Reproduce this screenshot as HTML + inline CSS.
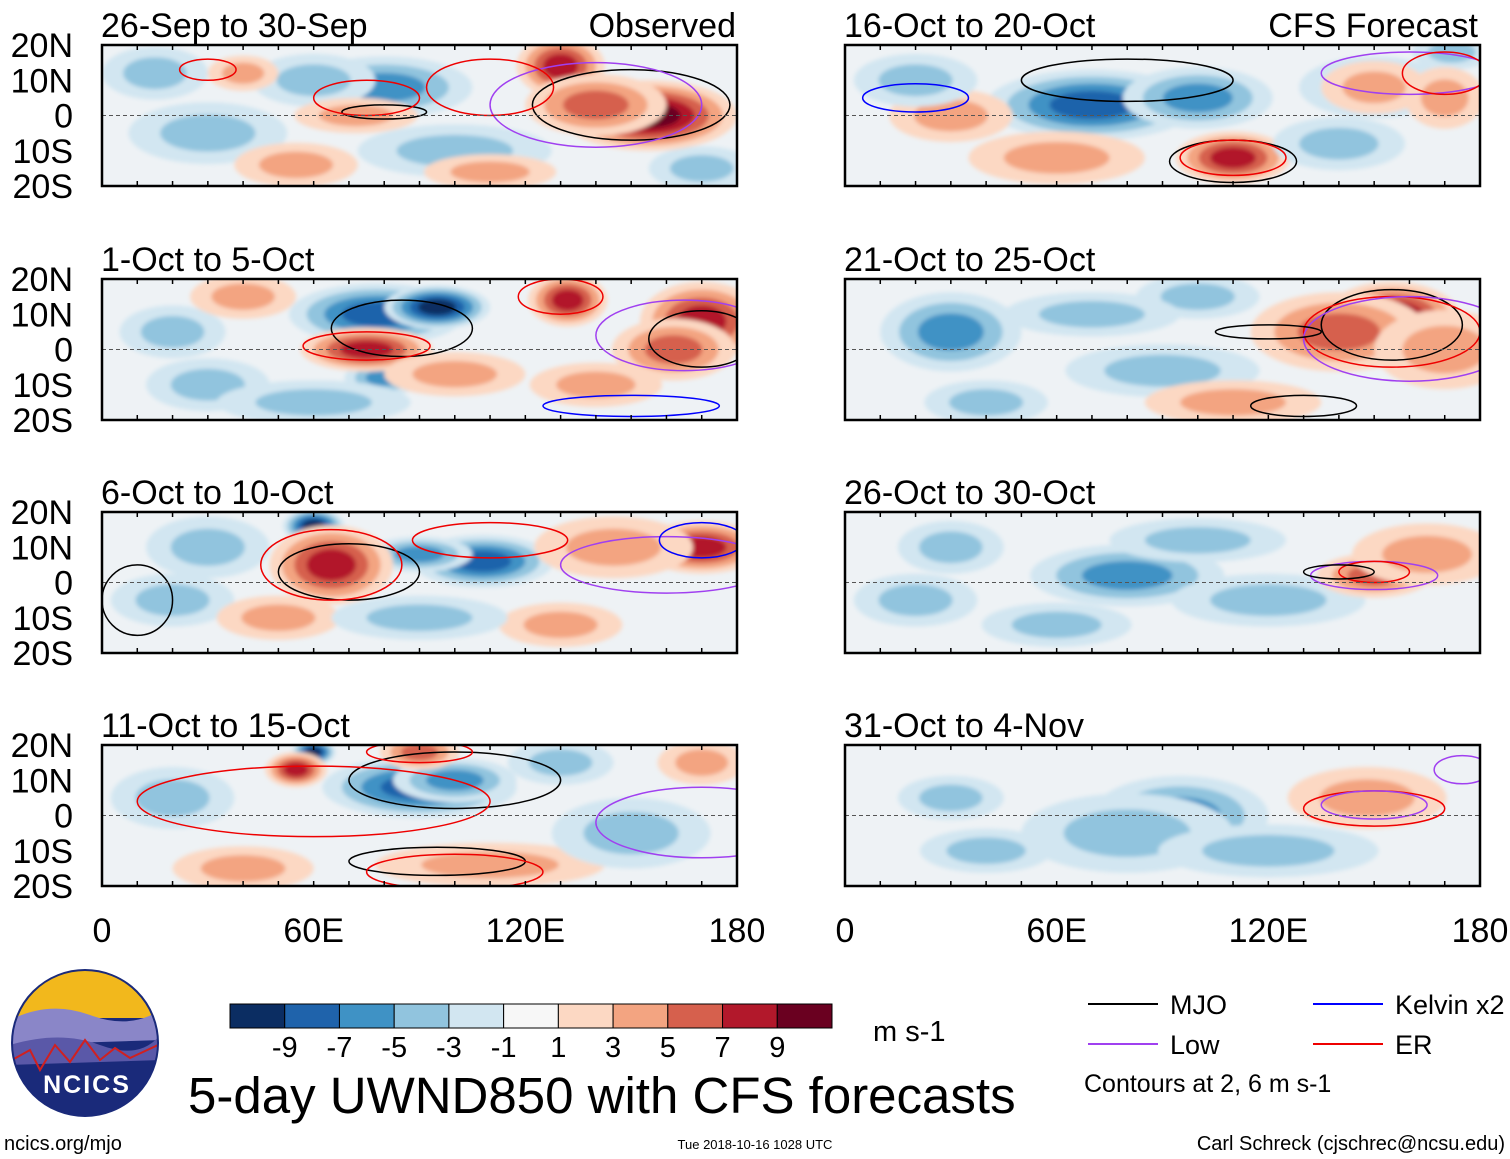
<!DOCTYPE html>
<html><head><meta charset="utf-8">
<style>
html,body{margin:0;padding:0;background:#fff;}
svg{display:block;font-family:"Liberation Sans",Arial,sans-serif;}
</style></head>
<body>
<svg id="chart" width="1510" height="1159" viewBox="0 0 1510 1159"></svg>
<script>
const panelTitles = ["26-Sep to 30-Sep","1-Oct to 5-Oct","6-Oct to 10-Oct","11-Oct to 15-Oct","16-Oct to 20-Oct","21-Oct to 25-Oct","26-Oct to 30-Oct","31-Oct to 4-Nov"];
const latTicks = [20,10,0,-10,-20];
const latLabels = ["20N","10N","0","10S","20S"];
const lonTicks = [0,60,120,180];
const lonLabels = ["0","60E","120E","180"];
const cbLevels = [-11,-9,-7,-5,-3,-1,1,3,5,7,9,11];
const cbLabels = ["-9","-7","-5","-3","-1","1","3","5","7","9"];
const cbColors = ["#0b2d62","#1f63ab","#3f92c5","#91c4de","#d2e6f1","#f7f7f7","#fcd8c3","#f3a481","#d6604d","#b2182b","#6a0020"];
// blobs: [lon, lat, rxDeg, ryDeg, value]
const blobs = [
 [[80,8,20,7,-5],[60,10,14,6,-3],[100,-10,22,6,-3],[30,-5,18,7,-2],[15,12,12,6,-2],[170,-15,12,5,-3],[130,14,10,7,7],[155,0,20,8,9],[140,3,16,7,5],[40,12,8,4,3],[72,0,14,4,3],[110,-16,15,4,2],[55,-14,14,5,2]],
 [[78,10,20,7,-7],[95,12,12,5,-9],[80,-8,9,4,-5],[30,-10,14,6,-3],[20,5,12,6,-2],[60,-15,22,5,-3],[75,0,15,5,7],[132,14,9,6,7],[170,8,14,9,7],[162,0,14,7,5],[100,-7,16,5,3],[140,-10,15,5,2],[40,15,12,5,2]],
 [[60,16,7,4,-9],[108,6,16,6,-7],[90,8,12,4,-5],[30,10,14,7,-3],[20,-5,14,6,-2],[65,5,14,9,7],[170,10,14,6,7],[130,-12,14,5,3],[50,-10,14,5,3],[145,10,18,7,3],[90,-10,20,5,-2]],
 [[90,8,22,7,-7],[60,18,5,3,-9],[100,10,14,5,-5],[130,15,12,5,-3],[20,5,14,7,-3],[55,13,7,4,7],[90,18,9,4,5],[40,-15,16,5,3],[110,-14,26,5,3],[150,-5,18,8,-2],[170,15,10,5,2]],
 [[70,3,24,8,-7],[100,5,17,7,-5],[150,8,17,7,-3],[172,18,9,4,-3],[110,-12,13,6,7],[150,8,12,6,3],[30,0,14,6,3],[170,5,9,7,3],[20,10,14,6,-2],[60,-12,20,6,2],[140,-8,15,6,-2]],
 [[30,5,16,9,-5],[90,-6,22,6,-3],[100,15,14,5,-3],[155,8,16,9,9],[140,5,20,9,5],[170,0,16,9,3],[40,-15,14,5,-3],[70,10,20,5,-2],[110,-15,20,5,2]],
 [[80,2,22,7,-5],[120,-5,22,6,-3],[60,-12,17,5,-3],[150,2,13,5,5],[165,8,17,7,3],[30,10,12,6,-2],[100,12,20,5,-2],[20,-5,14,6,-2]],
 [[95,0,20,9,-5],[80,-5,24,9,-3],[150,3,13,5,5],[148,5,18,7,3],[30,5,12,5,-2],[120,-10,25,6,-2],[40,-10,15,5,-2]]
];
// contours: [lon, lat, rxDeg, ryDeg, color]
const contours = [
 [[150,3,28,10,"#000"],[80,1,12,2,"#000"],[140,3,30,12,"#a040f0"],[110,8,18,8,"#e00"],[75,5,15,5,"#e00"],[30,13,8,3,"#e00"]],
 [[85,6,20,8,"#000"],[130,15,12,5,"#e00"],[165,4,25,10,"#a040f0"],[170,3,15,8,"#000"],[75,1,18,4,"#e00"],[150,-16,25,3,"#00f"]],
 [[70,3,20,8,"#000"],[65,5,20,10,"#e00"],[110,12,22,5,"#e00"],[160,5,30,8,"#a040f0"],[170,12,12,5,"#00f"],[10,-5,10,10,"#000"]],
 [[100,10,30,8,"#000"],[60,4,50,10,"#e00"],[170,-2,30,10,"#a040f0"],[95,-13,25,4,"#000"],[100,-16,25,5,"#e00"],[90,18,15,3,"#e00"]],
 [[80,10,30,6,"#000"],[110,-13,18,6,"#000"],[110,-12,15,5,"#e00"],[160,12,25,6,"#a040f0"],[170,12,12,6,"#e00"],[20,5,15,4,"#00f"]],
 [[155,7,20,10,"#000"],[155,5,25,10,"#e00"],[160,3,30,12,"#a040f0"],[120,5,15,2,"#000"],[130,-16,15,3,"#000"]],
 [[150,2,18,4,"#a040f0"],[150,3,10,3,"#e00"],[140,3,10,2,"#000"]],
 [[150,2,20,5,"#e00"],[150,3,15,4,"#a040f0"],[175,13,8,4,"#a040f0"]]
];
const NS="http://www.w3.org/2000/svg";
const svg=document.getElementById("chart");
function mk(tag,attrs,parent){const e=document.createElementNS(NS,tag);for(const k in attrs)e.setAttribute(k,attrs[k]);(parent||svg).appendChild(e);return e;}
function colorFor(v){for(let i=0;i<cbColors.length;i++){if(v>=cbLevels[i]&&v<cbLevels[i+1])return cbColors[i];}return v<0?cbColors[0]:cbColors[10];}
const colX=[102,845], rowY=[45,279,512,745], PW=635, PH=141;
mk("defs",{}).innerHTML='<filter id="soft"><feGaussianBlur stdDeviation="2"/></filter>';
for(let p=0;p<8;p++){
  const col=p<4?0:1,row=p%4,x0=colX[col],y0=rowY[row];
  const xS=lon=>x0+lon/180*PW, yS=lat=>y0+(20-lat)/40*PH;
  const g=mk("g",{});
  
  
  const cid="clip"+p;
  mk("clipPath",{id:cid},svg).appendChild(mk("rect",{x:x0,y:y0,width:PW,height:PH},document.createElementNS(NS,"g")));
  const inner=mk("g",{"clip-path":"url(#"+cid+")"},g);
  mk("rect",{x:x0,y:y0,width:PW,height:PH,fill:"#eef2f5"},inner);
  const fg=mk("g",{filter:"url(#soft)"},inner);
  blobs[p].forEach(b=>{
    const [lon,lat,rx,ry,v]=b;const n=Math.max(1,Math.round((Math.abs(v)+1)/2));
    for(let k=0;k<n;k++){
      const val=Math.sign(v)*(2+2*k);const s=1-0.8*k/n;
      const e=mk("ellipse",{cx:xS(lon),cy:yS(lat),rx:1.25*rx/180*PW*s,ry:1.25*ry/40*PH*s,fill:colorFor(val)},fg);
      
      
    }
  });
  contours[p].forEach(c=>{
    const e=mk("ellipse",{cx:xS(c[0]),cy:yS(c[1]),rx:c[2]/180*PW,ry:c[3]/40*PH,fill:"none",stroke:c[4],"stroke-width":1.5},inner);
    
    
  });
  mk("line",{x1:x0,x2:x0+PW,y1:yS(0),y2:yS(0),stroke:"#555","stroke-dasharray":"4,3","stroke-width":1},inner);
  mk("rect",{x:x0,y:y0,width:PW,height:PH,fill:"none",stroke:"#000","stroke-width":2.5},g);
  for(let l=0;l<=180;l+=10){mk("line",{x1:xS(l),x2:xS(l),y1:y0,y2:y0+5,stroke:"#000","stroke-width":1.5},g);mk("line",{x1:xS(l),x2:xS(l),y1:y0+PH,y2:y0+PH-5,stroke:"#000","stroke-width":1.5},g);}
  const t=mk("text",{x:x0-1,y:y0-8,"font-size":34,fill:"#000"},g);t.textContent=panelTitles[p];
  
  
  if(col===0){latTicks.forEach((lt,i)=>{const tt=mk("text",{x:73,y:yS(lt)+12,"font-size":34,"text-anchor":"end"},g);tt.textContent=latLabels[i];
    });}
  if(row===3){lonTicks.forEach((ln,i)=>{const tt=mk("text",{x:xS(ln),y:942,"font-size":34,"text-anchor":"middle"},g);tt.textContent=lonLabels[i];
    });}
}
function txt(x,y,s,sz,name,anchor){const t=mk("text",{x:x,y:y,"font-size":sz,"text-anchor":anchor||"start"});t.textContent=s;return t;}
txt(736,37,"Observed",34,"observed-label","end");
txt(1478,37,"CFS Forecast",34,"forecast-label","end");
// colorbar
const cbX=230,cbW=602/11;
cbColors.forEach((c,i)=>{const r=mk("rect",{x:cbX+i*cbW,y:1004,width:cbW,height:24,fill:c,stroke:"#000","stroke-width":1});
  });
cbLabels.forEach((l,i)=>txt(cbX+(i+1)*cbW,1057,l,29,"colorbar-tick","middle"));
txt(873,1041,"m s-1",29,"colorbar-units");
txt(188,1113,"5-day UWND850 with CFS forecasts",51,"main-title");
// legend
[["MJO","#000",1088,1004],["Low","#a040f0",1088,1044],["Kelvin x2","#00f",1313,1004],["ER","#e00",1313,1044]].forEach(L=>{
  const ln=mk("line",{x1:L[2],x2:L[2]+70,y1:L[3],y2:L[3],stroke:L[1],"stroke-width":2});
  
  txt(L[2]+82,L[3]+10,L[0],27,"legend-entry");});
txt(1084,1092,"Contours at 2, 6 m s-1",25,"contour-note");
txt(4,1150,"ncics.org/mjo",20,"site-url");
txt(755,1149,"Tue 2018-10-16 1028 UTC",13,"timestamp","middle");
txt(1505,1150,"Carl Schreck (cjschrec@ncsu.edu)",20,"author-credit","end");
// logo
const lg=mk("g",{});
mk("clipPath",{id:"lc"}).appendChild(mk("circle",{cx:85,cy:1043,r:73},document.createElementNS(NS,"g")));
const li=mk("g",{"clip-path":"url(#lc)"},lg);
mk("rect",{x:10,y:968,width:150,height:150,fill:"#1a2a7a"},li);
mk("rect",{x:10,y:968,width:150,height:50,fill:"#f2b81c"},li);
mk("path",{d:"M10 1020 Q50 1000 90 1015 T160 1010 L160 1040 L10 1045Z",fill:"#8a86c8"},li);
mk("path",{d:"M10 1045 Q60 1030 100 1045 T160 1035 L160 1060 L10 1065Z",fill:"#5a58a8"},li);
mk("path",{d:"M12 1060 L30 1050 L40 1070 L55 1045 L70 1062 L85 1040 L100 1060 L115 1048 L130 1058 L158 1045",fill:"none",stroke:"#d02020","stroke-width":2},li);
mk("circle",{cx:85,cy:1043,r:73,fill:"none",stroke:"#1a2a7a","stroke-width":2},lg);
const nt=mk("text",{x:87,y:1093,"font-size":25,"font-weight":"bold",fill:"#fff","text-anchor":"middle","letter-spacing":"2"},lg);nt.textContent="NCICS";
</script>
</body></html>
